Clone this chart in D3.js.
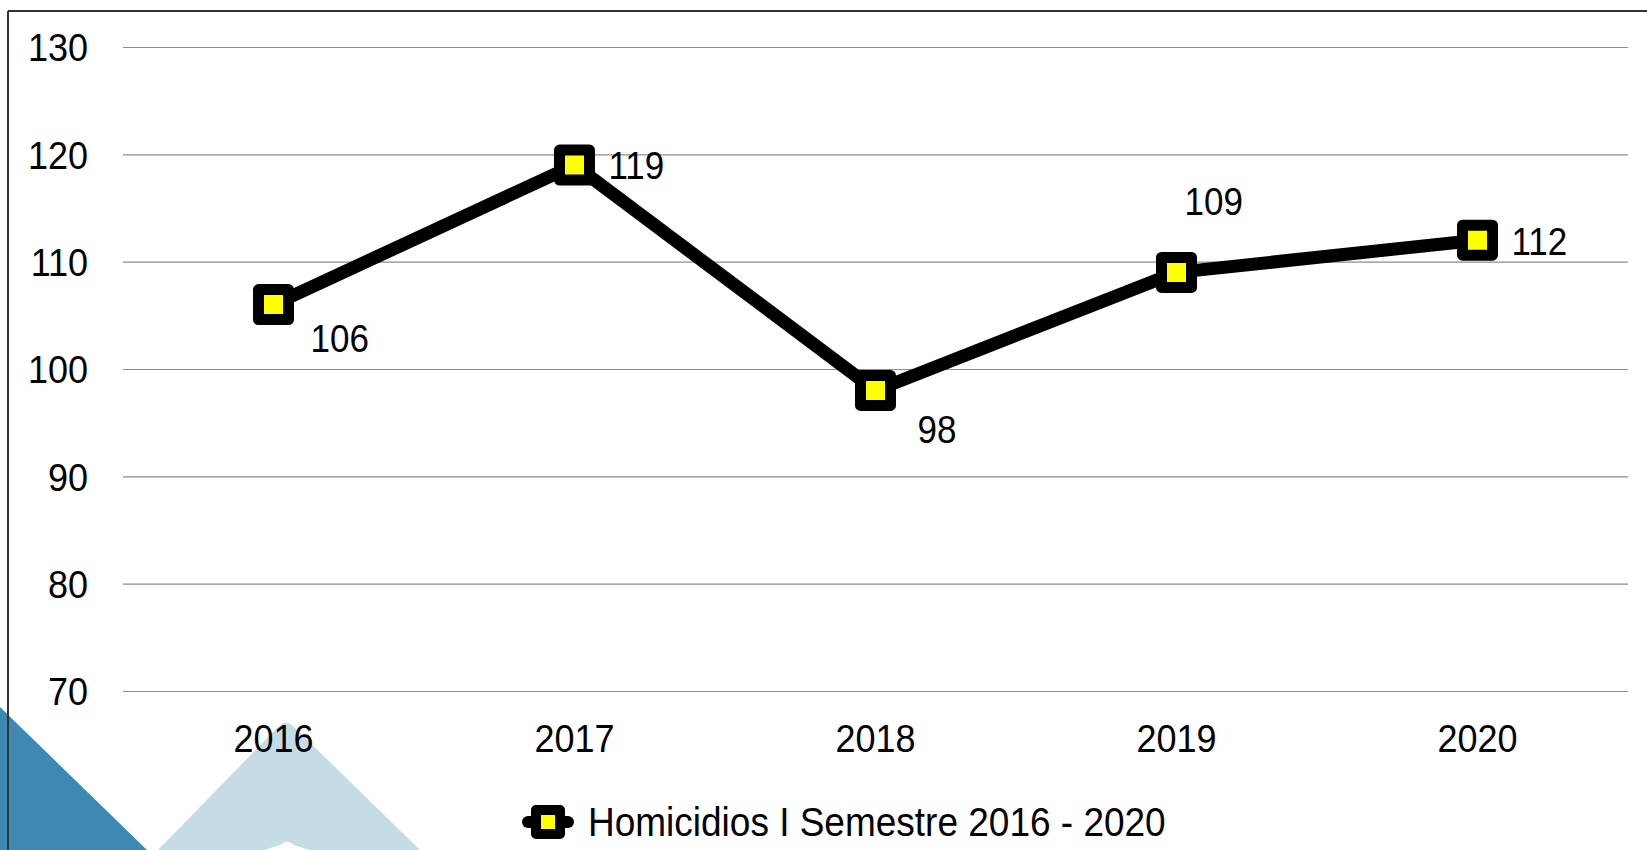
<!DOCTYPE html>
<html>
<head>
<meta charset="utf-8">
<script src="https://cdn.jsdelivr.net/npm/d3@7"></script>
<style>
  body { margin: 0; background: #fff; }
  svg { display: block; font-family: "Liberation Sans", Arial, sans-serif; }
</style>
</head>
<body>
<svg id="chart" width="1647" height="850"></svg>
<script>
// data
var years = ["2016", "2017", "2018", "2019", "2020"];
var homicidios = [106, 119, 98, 109, 112];
var yTicks = [70, 80, 90, 100, 110, 120, 130];
var seriesName = "Homicidios I Semestre 2016 - 2020";

// where each value label sits relative to its marker (dx, dy)
var labelPos = {
  "2016": [37, 34],
  "2017": [34, 1],
  "2018": [42, 39],
  "2019": [8, -71],
  "2020": [34, 1]
};

var width = 1647, height = 850;
// note: "top" is taken by window.top, so plot edges get their own names
var plotLeft = 123, plotRight = 1628, plotTop = 47, plotBottom = 691;
var stretch = "scale(1,1.09)"; // text in the original looks a bit tall

var svg = d3.select("#chart");

// background shapes in the lower left corner
svg.append("path")
  .attr("d", "M0,707 L147,850 L0,850 Z")
  .attr("fill", "#3d89b2");
svg.append("path")
  .attr("d", "M158,850 L279,726 Q286,719 293,726 L420,850 Z")
  .attr("fill", "#c3dce6");
svg.append("path")
  .attr("d", "M264,850 L280,845 Q287,838 294,845 L310,850 Z")
  .attr("fill", "#fff");

// frame
svg.append("line")
  .attr("x1", 8).attr("y1", 11).attr("x2", width).attr("y2", 11)
  .attr("stroke", "#333").attr("stroke-width", 2);
svg.append("line")
  .attr("x1", 8).attr("y1", 11).attr("x2", 8).attr("y2", height)
  .attr("stroke", "#333").attr("stroke-width", 2);

var x = d3.scaleBand()
  .domain(years)
  .range([plotLeft, plotRight]);

var y = d3.scaleLinear()
  .domain([70, 130])
  .range([plotBottom, plotTop]);

// y axis + gridlines
var yAxis = svg.append("g")
  .attr("transform", "translate(" + plotLeft + ",0)")
  .call(d3.axisLeft(y).tickValues(yTicks).tickSize(-(plotRight - plotLeft)).tickPadding(35));
yAxis.select(".domain").remove();
yAxis.selectAll("line").attr("stroke", "#8c8c8c").attr("stroke-width", 1.2);
yAxis.selectAll("text")
  .attr("font-size", 36)
  .attr("fill", "#000")
  .attr("font-family", "Liberation Sans, Arial, sans-serif")
  .attr("dy", "0.35em")
  .attr("transform", stretch);

// x axis labels
var xAxis = svg.append("g")
  .attr("transform", "translate(0," + plotBottom + ")")
  .call(d3.axisBottom(x).tickSize(0));
xAxis.select(".domain").remove();
xAxis.selectAll("text")
  .attr("font-size", 36)
  .attr("fill", "#000")
  .attr("font-family", "Liberation Sans, Arial, sans-serif")
  .attr("y", 0)
  .attr("dy", "0.35em")
  .attr("transform", "translate(0,47) " + stretch);

var pts = years.map(function(d, i) {
  return { year: d, value: homicidios[i], cx: x(d) + x.bandwidth() / 2, cy: y(homicidios[i]) };
});

var line = d3.line()
  .x(function(d) { return d.cx; })
  .y(function(d) { return d.cy; });

svg.append("path")
  .datum(pts)
  .attr("d", line)
  .attr("fill", "none")
  .attr("stroke", "#000")
  .attr("stroke-width", 13)
  .attr("stroke-linejoin", "round");

// square markers
svg.selectAll("rect.marker")
  .data(pts)
  .enter().append("rect")
  .attr("class", "marker")
  .attr("x", function(d) { return d.cx - 15; })
  .attr("y", function(d) { return d.cy - 15; })
  .attr("width", 30)
  .attr("height", 30)
  .attr("fill", "#ffff00")
  .attr("stroke", "#000")
  .attr("stroke-width", 11)
  .attr("stroke-linejoin", "round");

// value labels
svg.selectAll("text.val")
  .data(pts)
  .enter().append("text")
  .attr("class", "val")
  .attr("transform", function(d) {
    var o = labelPos[d.year];
    return "translate(" + (d.cx + o[0]) + "," + (d.cy + o[1]) + ") " + stretch;
  })
  .attr("dy", "0.35em")
  .attr("font-size", 35)
  .attr("fill", "#000")
  .text(function(d) { return d.value; });

// legend
var lg = svg.append("g").attr("transform", "translate(548,822)");
lg.append("line")
  .attr("x1", -20).attr("x2", 20)
  .attr("stroke", "#000").attr("stroke-width", 12)
  .attr("stroke-linecap", "round");
lg.append("rect")
  .attr("x", -12).attr("y", -12).attr("width", 24).attr("height", 24)
  .attr("fill", "#ffff00").attr("stroke", "#000").attr("stroke-width", 10)
  .attr("stroke-linejoin", "round");
lg.append("text")
  .attr("transform", "translate(40,0) " + stretch)
  .attr("dy", "0.35em")
  .attr("font-size", 37)
  .attr("fill", "#000")
  .text(seriesName);
</script>
</body>
</html>
